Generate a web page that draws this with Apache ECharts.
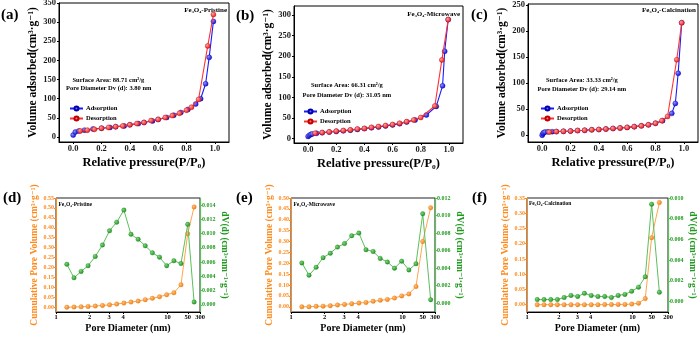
<!DOCTYPE html>
<html>
<head>
<meta charset="utf-8">
<script src="https://cdn.jsdelivr.net/npm/echarts@6/dist/echarts.min.js"></script>
<style>html,body{margin:0;padding:0;background:#fff}#c{width:700px;height:337px}</style>
</head>
<body>
<div id="c"></div>
<script>
// ---------------- DATA ----------------
const samples = ['Fe\u2083O\u2084-Pristine', 'Fe\u2083O\u2084-Microwave', 'Fe\u2083O\u2084-Calcination'];
const surfaceArea = ['88.71', '66.31', '33.33'];
const poreDv = ['3.80', '31.05', '29.14'];
const panelLetters = ['(a)', '(b)', '(c)', '(d)', '(e)', '(f)'];

// N2 isotherms (P/P0, cm3/g)
const adsP_a = [0.0,0.015,0.04,0.08,0.14,0.2,0.26,0.3,0.36,0.4,0.46,0.5,0.56,0.6,0.66,0.71,0.76,0.81,0.865,0.9,0.935,0.96,0.99];
const adsV_a = [5,13,16,18,21,23,25,27,29,32,35,38,42,46,51,57,64,72,86,100,139,208,302];
const desP_a = [0.05,0.1,0.15,0.2,0.25,0.3,0.35,0.4,0.45,0.5,0.55,0.6,0.65,0.7,0.75,0.8,0.835,0.885,0.95,0.99];
const desV_a = [16,18,20,23,25,27,29,32,35,38,43,46,51,56,62,70,78,98,238,320];

const adsP_b = [0.0,0.01,0.02,0.03,0.06,0.1,0.15,0.2,0.25,0.3,0.35,0.4,0.45,0.5,0.55,0.6,0.65,0.7,0.76,0.84,0.91,0.955,0.97,0.995];
const adsV_b = [5,8,10,11,12.5,14,15.5,17,18.5,20,22,24,26,28,30.5,33,36,40,45,57,78,128,212,289];
const desP_b = [0.05,0.1,0.15,0.2,0.25,0.3,0.35,0.4,0.45,0.5,0.55,0.6,0.65,0.7,0.75,0.8,0.9,0.95,0.995];
const desV_b = [13,14.5,16,18,19.5,21,23,24.5,27,29,31.5,34,37,41,45,51,79,191,289];

const adsP_c = [0.0,0.005,0.01,0.02,0.04,0.07,0.1,0.15,0.2,0.25,0.3,0.35,0.4,0.45,0.5,0.55,0.6,0.65,0.7,0.75,0.8,0.85,0.915,0.94,0.96,0.985];
const adsV_c = [0,3,5,6,6.5,6.8,7,7.5,8,9,9.5,10.5,11,12,13,14,15,16.5,18,20,23,28,42,61,119,216];
const desP_c = [0.05,0.1,0.15,0.2,0.25,0.3,0.35,0.4,0.45,0.5,0.55,0.6,0.65,0.7,0.75,0.8,0.845,0.885,0.95,0.985];
const desV_c = [6,7,7.5,8,9,9.5,10.5,11,12,13,14,15,16.5,18,20,23,28,36,145,216];

// Pore size distributions (nm, cm3/g, cm3/nm/g)
const poreD_d = [1.25,1.45,1.68,1.94,2.25,2.61,3.02,3.50,4.06,4.70,5.45,6.31,7.31,8.47,9.82,11.4,13.2,48,126];
const cumV_d = [0.000,0.001,0.002,0.004,0.006,0.009,0.012,0.016,0.021,0.026,0.031,0.038,0.045,0.053,0.063,0.073,0.113,0.37,0.505];
const dVd_d = [0.0057,0.0038,0.0047,0.0055,0.0068,0.0084,0.0104,0.0116,0.0133,0.0099,0.0092,0.0083,0.0073,0.0067,0.0055,0.0062,0.0058,0.0113,0.0004];

const poreD_e = [1.25,1.45,1.68,1.94,2.25,2.61,3.02,3.50,4.06,4.70,5.45,6.31,7.31,8.47,9.82,11.4,13.2,48,158];
const cumV_e = [0.000,0.000,0.002,0.003,0.005,0.008,0.011,0.014,0.017,0.020,0.025,0.030,0.034,0.040,0.050,0.059,0.093,0.30,0.455];
const dVd_e = [0.0046,0.0032,0.0041,0.0052,0.0057,0.0064,0.0068,0.0077,0.0080,0.0061,0.0059,0.0051,0.0047,0.0040,0.0048,0.0038,0.0045,0.0102,0.0004];

const poreD_f = [1.25,1.45,1.68,1.94,2.25,2.61,3.02,3.50,4.06,4.70,5.45,6.31,7.31,8.47,9.82,11.4,13.2,48,96];
const cumV_f = [0,0,0,0,0,0,0,0,0,0,0.0003,0.0005,0.0008,0.001,0.002,0.005,0.02,0.22,0.335];
const dVd_f = [0.0002,0.0002,0.0002,0.0002,0.0004,0.0006,0.0005,0.0008,0.0006,0.0005,0.0005,0.0004,0.0006,0.0007,0.0010,0.0014,0.0024,0.0094,0.0009];

// tick labels
const pressureTicks = [0.0,0.2,0.4,0.6,0.8,1.0];
const volTicks_a = [0,50,100,150,200,250,300,350];
const volTicks_b = [0,50,100,150,200,250,300];
const volTicks_c = [0,50,100,150,200,250];
const poreTicks_de = [1,2,3,4,10,50,300];
const poreTicks_f = [1,2,3,4,10,50,200];
const cumTicks_d = [0,0.05,0.10,0.15,0.20,0.25,0.30,0.35,0.40,0.45,0.50,0.55];
const cumTicks_e = [0,0.05,0.10,0.15,0.20,0.25,0.30,0.35,0.40,0.45,0.50];
const cumTicks_f = [0,0.05,0.10,0.15,0.20,0.25,0.30,0.35];
const dvTicks_d = [0,0.002,0.004,0.006,0.008,0.010,0.012,0.014];
const dvTicks_e = [0,0.002,0.004,0.006,0.008,0.010,0.012];
const dvTicks_f = [0,0.002,0.004,0.006,0.008,0.010];

// ---------------- STYLE / SCALES ----------------
const SERIF = '"Liberation Serif","Times New Roman","DejaVu Serif",serif';
const BLUE = '#1a1aff', RED = '#ff3030', ORANGE = '#ff8a1c', GREEN = '#1f9a1f', GREEN_L = '#5cbf5c';

// broken-log pore diameter axis (log up to 14 nm, compressed beyond)
const BREAK_START = 14, U50 = 1.182;
function poreScale(tail) {
  const ls = Math.log10(BREAK_START), l50 = Math.log10(50);
  const mid = (U50 - ls) / (l50 - ls);
  return d => {
    const L = Math.log10(d);
    if (L <= ls) return L;
    if (L <= l50) return ls + (L - ls) * mid;
    return U50 + (L - l50) * tail;
  };
}

function pairs(xs, ys) { return xs.map((x, i) => [x, ys[i]]); }
function ball(c1, c2) {
  return new echarts.graphic.RadialGradient(0.35, 0.35, 0.75, [{offset: 0, color: c1}, {offset: 1, color: c2}]);
}

const grid = [], xAxis = [], yAxis = [], series = [], graphic = [], legend = [];

function tickLab(size, color) {
  return {fontFamily: SERIF, fontWeight: 'bold', fontSize: size, color: color};
}

// ---------- top panels ----------
function topPanel(g, yMin, yMax, yTicks, yGap, ads, des) {
  const gi = grid.length;
  grid.push({left: g[0], top: g[1], width: g[2], height: g[3], show: true, borderColor: '#000', borderWidth: 1, outerBoundsMode: 'none'});
  xAxis.push({
    gridIndex: gi, type: 'value', min: -0.1, max: 1.1,
    name: 'Relative pressure(P/P\u2080)', nameLocation: 'middle', nameGap: 14,
    nameTextStyle: {fontFamily: SERIF, fontWeight: 'bold', fontSize: 12.5, color: '#000'},
    axisLine: {onZero: false, lineStyle: {color: '#000', width: 1}},
    axisTick: {show: true, length: 2, customValues: pressureTicks, lineStyle: {color: '#000'}},
    axisLabel: Object.assign({customValues: pressureTicks, formatter: v => v.toFixed(1), margin: 2, showMinLabel: true, showMaxLabel: true}, tickLab(8.5, '#1a1a1a')),
    splitLine: {show: false}
  });
  yAxis.push({
    gridIndex: gi, type: 'value', min: yMin, max: yMax,
    name: 'Volume adsorbed(cm\u00B3\u00B7g\u207B\u00B9)', nameLocation: 'middle', nameGap: yGap, nameRotate: 90,
    nameTextStyle: {fontFamily: SERIF, fontWeight: 'bold', fontSize: 11.5, color: '#000'},
    axisLine: {onZero: false, lineStyle: {color: '#000', width: 1}},
    axisTick: {show: true, length: 2, customValues: yTicks, lineStyle: {color: '#000'}},
    axisLabel: Object.assign({customValues: yTicks, margin: 3, showMinLabel: true, showMaxLabel: true}, tickLab(8.5, '#1a1a1a')),
    splitLine: {show: false}
  });
  series.push({
    name: 'Adsorption', type: 'line', xAxisIndex: gi, yAxisIndex: gi, data: pairs(ads[0], ads[1]),
    symbol: 'circle', symbolSize: 5, lineStyle: {color: BLUE, width: 1.1},
    itemStyle: {color: ball('#8f8fff', '#0000d0'), borderColor: '#0000b0', borderWidth: 0.4}, z: 2
  });
  series.push({
    name: 'Desorption', type: 'line', xAxisIndex: gi, yAxisIndex: gi, data: pairs(des[0], des[1]),
    symbol: 'circle', symbolSize: 5, lineStyle: {color: RED, width: 1.1},
    itemStyle: {color: ball('#ffa0a0', '#e01010'), borderColor: '#c00000', borderWidth: 0.4}, z: 3
  });
}

topPanel([59, 3, 170, 139], -13, 350, volTicks_a, 16, [adsP_a, adsV_a], [desP_a, desV_a]);
topPanel([294, 6, 169, 137], -11, 322, volTicks_b, 18, [adsP_b, adsV_b], [desP_b, desV_b]);
topPanel([528, 4, 170, 138], -13, 252, volTicks_c, 13, [adsP_c, adsV_c], [desP_c, desV_c]);

// ---------- bottom panels ----------
function botPanel(g, maxD, tail, pTicks, cumMax, cumTicks, dvMax, dvTicks, D, C, V) {
  const gi = grid.length;
  const u = poreScale(tail);
  const uTicks = pTicks.map(u);
  grid.push({left: g[0], top: g[1], width: g[2], height: g[3], show: true, borderColor: '#222', borderWidth: 1, outerBoundsMode: 'none'});
  xAxis.push({
    gridIndex: gi, type: 'value', min: 0, max: u(maxD),
    name: 'Pore Diameter (nm)', nameLocation: 'middle', nameGap: 11,
    nameTextStyle: {fontFamily: SERIF, fontWeight: 'bold', fontSize: 10, color: '#000'},
    axisLine: {onZero: false, lineStyle: {color: '#000', width: 1}},
    axisTick: {show: true, length: 2, customValues: uTicks, lineStyle: {color: '#000'}},
    axisLabel: Object.assign({
      customValues: uTicks, margin: 2, showMinLabel: true, showMaxLabel: true,
      formatter: v => { const i = uTicks.findIndex(t => Math.abs(t - v) < 1e-6); return i >= 0 ? String(pTicks[i]) : ''; }
    }, tickLab(6.5, '#000')),
    splitLine: {show: false}
  });
  const yl = yAxis.length;
  yAxis.push({
    gridIndex: gi, type: 'value', position: 'left', min: -0.024, max: cumMax,
    name: 'Cumulative Pore Volume (cm\u00B3\u00B7g\u207B\u00B9)', nameLocation: 'middle', nameGap: 14, nameRotate: 90,
    nameTextStyle: {fontFamily: SERIF, fontWeight: 'bold', fontSize: 9.5, color: ORANGE},
    axisLine: {show: true, onZero: false, lineStyle: {color: ORANGE, width: 1}},
    axisTick: {show: true, length: 2, customValues: cumTicks, lineStyle: {color: ORANGE}},
    axisLabel: Object.assign({customValues: cumTicks, formatter: v => v.toFixed(2), margin: 2, showMinLabel: true, showMaxLabel: true}, tickLab(6, ORANGE)),
    splitLine: {show: false}
  });
  yAxis.push({
    gridIndex: gi, type: 'value', position: 'right', min: -0.001, max: dvMax,
    name: 'dV(d) (cm\u00B3\u00B7nm\u207B\u00B9\u00B7g\u207B\u00B9)', nameLocation: 'middle', nameGap: 16, nameRotate: -90,
    nameTextStyle: {fontFamily: SERIF, fontWeight: 'bold', fontSize: 9.5, color: GREEN},
    axisLine: {show: true, onZero: false, lineStyle: {color: GREEN_L, width: 1.2}},
    axisTick: {show: true, length: 2, customValues: dvTicks, lineStyle: {color: GREEN_L}},
    axisLabel: Object.assign({customValues: dvTicks, formatter: v => v.toFixed(3), margin: 2, showMinLabel: true, showMaxLabel: true}, tickLab(6, GREEN)),
    splitLine: {show: false}
  });
  series.push({
    name: 'Cumulative', type: 'line', xAxisIndex: gi, yAxisIndex: yl,
    data: D.map((d, i) => [u(d), C[i]]),
    symbol: 'circle', symbolSize: 4.5, lineStyle: {color: '#ffa54d', width: 1},
    itemStyle: {color: ball('#ffc080', '#f07800'), borderColor: '#e07000', borderWidth: 0.3}, z: 2
  });
  series.push({
    name: 'dV(d)', type: 'line', xAxisIndex: gi, yAxisIndex: yl + 1,
    data: D.map((d, i) => [u(d), V[i]]),
    symbol: 'circle', symbolSize: 4.5, lineStyle: {color: GREEN_L, width: 1},
    itemStyle: {color: ball('#7fd67f', '#138a13'), borderColor: '#0f7a0f', borderWidth: 0.3}, z: 3
  });
}

botPanel([56, 198, 144, 114], 300, 0.14, poreTicks_de, 0.55, cumTicks_d, 0.015, dvTicks_d, poreD_d, cumV_d, dVd_d);
botPanel([291, 198, 144, 114], 300, 0.14, poreTicks_de, 0.50, cumTicks_e, 0.012, dvTicks_e, poreD_e, cumV_e, dVd_e);
botPanel([527, 198, 141, 114], 200, 0.256, poreTicks_f, 0.35, cumTicks_f, 0.010, dvTicks_f, poreD_f, cumV_f, dVd_f);

// ---------- legends ----------
[[69, 105], [303, 108], [540, 105]].forEach(p => {
  legend.push({
    data: ['Adsorption', 'Desorption'], left: p[0], top: p[1], orient: 'vertical',
    itemWidth: 13, itemHeight: 5, itemGap: 3, padding: 0, selectedMode: false,
    textStyle: {fontFamily: SERIF, fontWeight: 'bold', fontSize: 6.5, color: '#000', padding: [0, 0, 0, -2]}
  });
});

// ---------- texts ----------
function txt(x, y, text, size, align, color) {
  return {type: 'text', x: x, y: y, silent: true,
    style: {text: text, fontSize: size, fontWeight: 'bold', fontFamily: SERIF, fill: color || '#000', textAlign: align || 'left', textVerticalAlign: 'middle'}};
}
graphic.push(txt(1, 15, panelLetters[0], 15));
graphic.push(txt(236, 16.5, panelLetters[1], 15));
graphic.push(txt(471, 15, panelLetters[2], 15));
graphic.push(txt(3, 198.5, panelLetters[3], 15));
graphic.push(txt(236, 198.5, panelLetters[4], 15));
graphic.push(txt(472, 198.5, panelLetters[5], 15));

graphic.push(txt(227, 10, samples[0], 7, 'right'));
graphic.push(txt(460, 14, samples[1], 7, 'right'));
graphic.push(txt(696, 10, samples[2], 7, 'right'));

graphic.push(txt(72.5, 80, 'Surface Area: ' + surfaceArea[0] + ' cm\u00B2/g', 6.5));
graphic.push(txt(66, 88.5, 'Pore Diameter Dv (d): ' + poreDv[0] + ' nm', 6.5));
graphic.push(txt(311, 85.5, 'Surface Area: ' + surfaceArea[1] + ' cm\u00B2/g', 6.5));
graphic.push(txt(302.5, 95, 'Pore Diameter Dv (d): ' + poreDv[1] + ' nm', 6.5));
graphic.push(txt(546, 80, 'Surface Area: ' + surfaceArea[2] + ' cm\u00B2/g', 6.5));
graphic.push(txt(537.5, 89.5, 'Pore Diameter Dv (d): ' + poreDv[2] + ' nm', 6.5));

graphic.push(txt(58.5, 204.5, samples[0], 5.5));
graphic.push(txt(293.5, 204.5, samples[1], 5.5));
graphic.push(txt(529, 204, samples[2], 5.5));

const chart = echarts.init(document.getElementById('c'), null, {renderer: 'canvas'});
chart.setOption({
  animation: false,
  backgroundColor: '#fff',
  textStyle: {fontFamily: SERIF},
  grid, xAxis, yAxis, series, legend, graphic,
  tooltip: {show: false}
});
</script>
</body>
</html>
